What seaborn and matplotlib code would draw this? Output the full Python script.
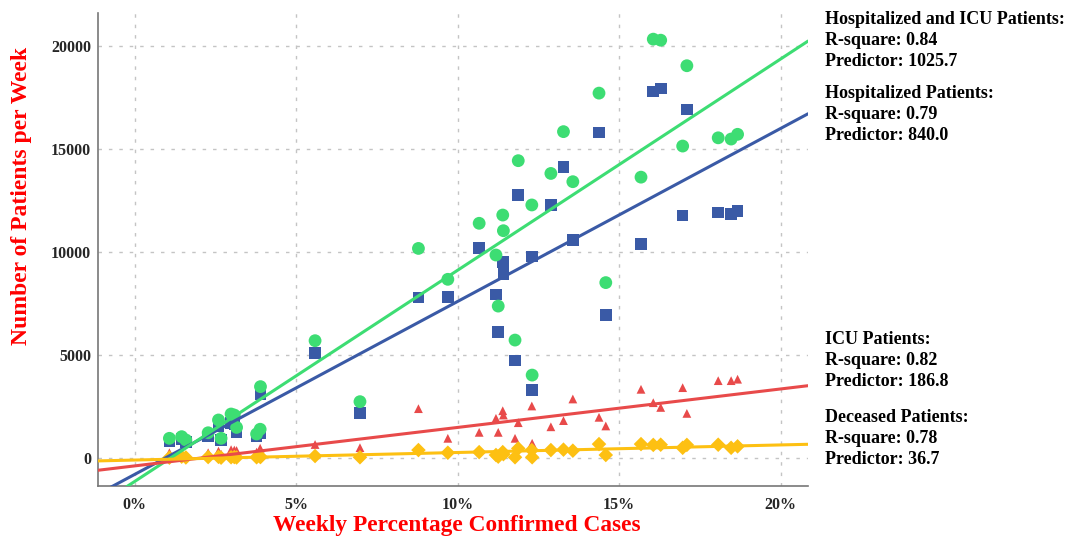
import numpy as np
import pandas as pd
import matplotlib.pyplot as plt
import seaborn as sns

# weekly percentage of confirmed cases (%)
weekly_pct = [1.08, 1.46, 1.59, 2.28, 2.60, 2.68, 2.99, 3.09, 3.16, 3.78, 3.89, 3.90,
              5.59, 6.98, 8.79, 9.70, 10.67, 11.19, 11.26, 11.40, 11.42, 11.78, 11.88,
              12.30, 12.31, 12.89, 13.28, 13.57, 14.38, 14.59, 15.68, 16.06, 16.29,
              16.97, 17.10, 18.07, 18.47, 18.67]
# patients per week
hosp = [850, 950, 800, 1050, 1550, 880, 1700, 1650, 1290, 1050, 1200, 3120,
        5100, 2210, 7800, 7820, 10210, 7960, 6130, 9540, 8950, 4740, 12770,
        9790, 3320, 12300, 14140, 10600, 15810, 6960, 10400, 17800, 17960,
        11780, 16940, 11940, 11860, 12000]
hosp_icu = [970, 1050, 890, 1240, 1860, 970, 2150, 2100, 1500, 1180, 1410, 3480,
            5710, 2750, 10190, 8690, 11410, 9870, 7390, 11810, 11050, 5740, 14450,
            12300, 4040, 13830, 15860, 13430, 17730, 8530, 13650, 20350, 20300,
            15160, 19060, 15560, 15500, 15730]
icu = [270, 150, 120, 270, 350, 200, 420, 400, 380, 300, 490, 200,
       670, 515, 2410, 970, 1260, 1940, 1260, 2310, 2100, 970, 1730,
       2540, 730, 1530, 1830, 2880, 1990, 1570, 3350, 2700, 2470,
       3430, 2180, 3770, 3770, 3840]
deceased = [30, 80, 40, 60, 70, 30, 50, 60, 40, 50, 90, 60,
            110, 50, 400, 270, 300, 160, 80, 300, 200, 50, 480,
            400, 50, 400, 420, 370, 690, 160, 690, 650, 660,
            510, 650, 660, 510, 580]

groups = ["Hospitalized Patients", "Hospitalized and ICU Patients", "ICU Patients", "Deceased Patients"]
# linear fits shown on the chart
slopes = [840.0, 1025.7, 186.8, 36.7]
intercepts = [-787, -1130, -370, -85]
r_squares = [0.79, 0.84, 0.82, 0.78]

colors = {"Hospitalized Patients": "#3a5aa6", "Hospitalized and ICU Patients": "#3ddd73",
          "ICU Patients": "#e84a4a", "Deceased Patients": "#fdc012"}
markers = {"Hospitalized Patients": "s", "Hospitalized and ICU Patients": "o",
           "ICU Patients": "^", "Deceased Patients": "D"}
sizes = {"Hospitalized Patients": 70, "Hospitalized and ICU Patients": 85,
         "ICU Patients": 40, "Deceased Patients": 55}

df = pd.DataFrame({"pct": weekly_pct, groups[0]: hosp, groups[1]: hosp_icu,
                   groups[2]: icu, groups[3]: deceased})
df = df.melt(id_vars="pct", var_name="group", value_name="patients")

sns.set_style("white")
plt.rcParams['font.family'] = ['Liberation Serif', 'DejaVu Serif']
plt.rcParams['font.weight'] = 'bold'

fig = plt.figure(figsize=(10.83, 5.4), dpi=100)
ax = fig.add_axes([98/1083, 54/540, 710/1083, 473/540])

ax.set_xlim(-1.13, 20.85)
ax.set_ylim(-1345, 21620)

sns.scatterplot(data=df, x="pct", y="patients", hue="group", style="group", size="group",
                palette=colors, markers=markers, sizes=sizes, linewidth=0,
                legend=False, ax=ax, zorder=3)

xs = np.array(ax.get_xlim())
for g, m, b in zip(groups, slopes, intercepts):
    ax.plot(xs, m * xs + b, color=colors[g], lw=2.2, zorder=4)
ax.set_xlim(-1.13, 20.85)

ax.set_xticks([0, 5, 10, 15, 20])
ax.set_xticklabels([f"{t}%" for t in [0, 5, 10, 15, 20]])
ax.set_yticks([0, 5000, 10000, 15000, 20000])
ax.grid(True, color="#c4c4c4", linestyle=(0, (2.5, 5)), lw=1)
ax.tick_params(axis='x', length=0, labelsize=11.5, pad=8)
ax.tick_params(axis='y', length=0, labelsize=11.5, pad=5)
for lab in ax.get_xticklabels() + ax.get_yticklabels():
    lab.set_fontweight('bold')
for s in ["top", "right"]:
    ax.spines[s].set_visible(False)
for s in ["left", "bottom"]:
    ax.spines[s].set_color("#777777")
    ax.spines[s].set_linewidth(1.2)

ax.set_xlabel('')
ax.set_ylabel('')
fig.text(457/1083, 1 - 525/540, "Weekly Percentage Confirmed Cases", color="red",
         fontsize=16.8, fontweight='bold', ha='center', va='center')
fig.text(22/1083, 1 - 196/540, "Number of Patients per Week", color="red",
         fontsize=17, fontweight='bold', ha='center', va='center', rotation=90)

# fit summaries on the right
block_y = {"Hospitalized and ICU Patients": 20, "Hospitalized Patients": 94,
           "ICU Patients": 340, "Deceased Patients": 418}
for g, m, r2 in zip(groups, slopes, r_squares):
    y0 = block_y[g]
    lines = [f"{g}:", f"R-square: {r2:.2f}", f"Predictor: {m:.1f}"]
    for i, t in enumerate(lines):
        fig.text(825/1083, 1 - (y0 + i * 20.7)/540, t, fontsize=13, fontweight='bold',
                 ha='left', va='center', color='black')

fig.savefig("out.png", dpi=100)
